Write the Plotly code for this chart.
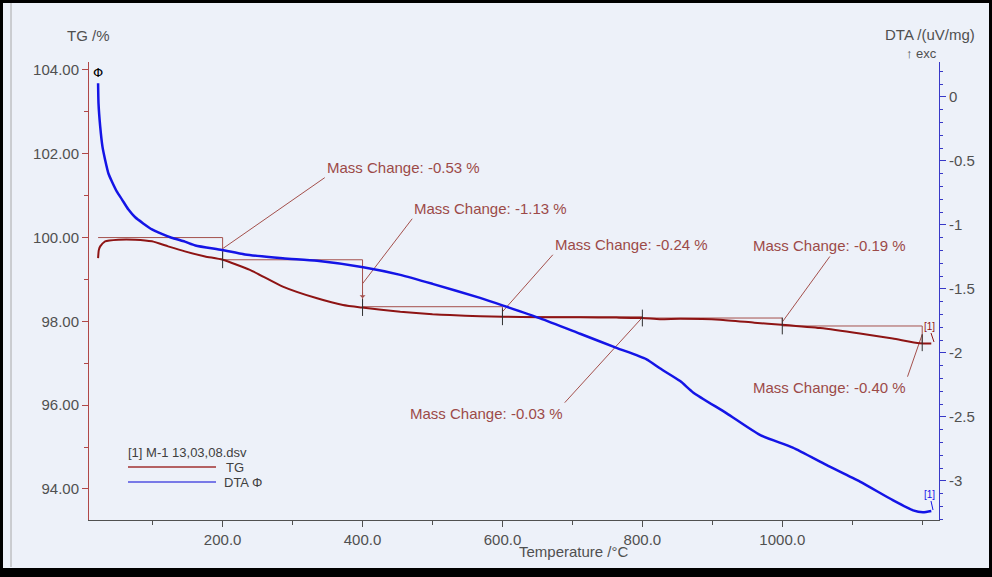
import plotly.graph_objects as go

# ---------------- data ----------------
tg_temp = [22, 23, 25, 32, 51, 75, 99, 122, 146, 175, 200, 239, 286, 335, 372, 399,
           454, 500, 525, 568, 601, 654, 711, 763, 800, 825, 854, 911, 960, 999,
           1054, 1111, 1158, 1196, 1213]
tg_val = [99.51, 99.70, 99.79, 99.91, 99.95, 99.95, 99.91, 99.79, 99.67, 99.55, 99.47,
          99.23, 98.83, 98.55, 98.39, 98.33, 98.23, 98.17, 98.15, 98.12, 98.11, 98.10,
          98.10, 98.09, 98.08, 98.05, 98.06, 98.04, 97.97, 97.92, 97.84, 97.71, 97.59,
          97.48, 97.47]

dta_temp = [22, 22.6, 25, 28.3, 32, 36.9, 41.7, 48.9, 56, 65.4, 75, 87, 99, 113, 127, 146,
            161, 199, 232, 286, 335, 401, 454, 500, 568, 601, 654, 711, 763, 806, 825,
            854, 873, 920, 968, 1015, 1063, 1111, 1158, 1187, 1201, 1213]
dta_val = [0.107, -0.05, -0.23, -0.39, -0.49, -0.60, -0.66, -0.74, -0.80, -0.88, -0.94,
           -0.99, -1.035, -1.07, -1.10, -1.13, -1.16, -1.195, -1.23, -1.26, -1.28, -1.33,
           -1.39, -1.46, -1.57, -1.63, -1.73, -1.85, -1.96, -2.05, -2.12, -2.22, -2.31,
           -2.47, -2.64, -2.74, -2.875, -3.005, -3.15, -3.23, -3.245, -3.235]

# mass-change evaluation steps
step_bounds = [22, 200, 400, 600, 800, 1000, 1200]
step_start = [100.00, 99.47, 98.35, 98.11, 98.08, 97.89]
step_end = [99.47, 98.33, 98.11, 98.08, 97.89, 97.49]
step_labels = ["Mass Change: -0.53 %", "Mass Change: -1.13 %", "Mass Change: -0.24 %",
               "Mass Change: -0.03 %", "Mass Change: -0.19 %", "Mass Change: -0.40 %"]
# label anchor (temperature, TG) where the leader line ends
label_T = [346, 471, 672, 689, 1068, 1179]
label_tg = [101.43, 100.45, 99.59, 96.06, 99.55, 96.68]
label_xanchor = ["left", "left", "left", "right", "center", "right"]
label_yanchor = ["bottom", "bottom", "bottom", "top", "bottom", "top"]

x_ticks = [200, 400, 600, 800, 1000]
x_ticktext = ["200.0", "400.0", "600.0", "800.0", "1000.0"]
tg_ticks = [94, 96, 98, 100, 102, 104]
tg_ticktext = ["94.00", "96.00", "98.00", "100.00", "102.00", "104.00"]
dta_ticks = [0, -0.5, -1, -1.5, -2, -2.5, -3]
dta_ticktext = ["0", "-0.5", "-1", "-1.5", "-2", "-2.5", "-3"]

# ---------------- layout geometry ----------------
W, H = 992, 577
L, R, T, B = 89, 53, 62, 57
PW, PH = W - L - R, H - T - B


def px(xp):
    return (xp - L) / PW


def py(yp):
    return (H - B - yp) / PH


BG = "#EDF1F9"
RED = "#8E1414"
REF = "#A4504C"
BLUE = "#1414E6"
FONT = "Liberation Sans, Arial, sans-serif"

fig = go.Figure()

# reference (step) lines
sx, sy = [], []
for i in range(len(step_start)):
    sx += [step_bounds[i], step_bounds[i + 1], step_bounds[i + 1], None]
    sy += [step_start[i], step_start[i], step_end[i], None]
fig.add_trace(go.Scatter(x=sx, y=sy, mode="lines", line=dict(color=REF, width=1),
                         showlegend=False, hoverinfo="skip"))

# leader lines
lx, ly = [], []
for i in range(len(step_start)):
    mid = (step_start[i] + step_end[i]) / 2
    lx += [step_bounds[i + 1], label_T[i], None]
    ly += [mid, label_tg[i], None]
fig.add_trace(go.Scatter(x=lx, y=ly, mode="lines", line=dict(color=REF, width=1),
                         showlegend=False, hoverinfo="skip"))

# TG curve
fig.add_trace(go.Scatter(x=tg_temp, y=tg_val, mode="lines", name="TG",
                         line=dict(color=RED, width=2, shape="spline", smoothing=0.5),
                         showlegend=False))

# DTA curve
fig.add_trace(go.Scatter(x=dta_temp, y=dta_val, mode="lines", name="DTA Φ", yaxis="y2",
                         line=dict(color=BLUE, width=2.5, shape="spline", smoothing=0.6),
                         showlegend=False))

# step crosses
fig.add_trace(go.Scatter(x=step_bounds[1:], y=step_end, mode="markers",
                         marker=dict(symbol="line-ns", size=12,
                                     line=dict(color="#303030", width=1)),
                         showlegend=False, hoverinfo="skip"))


def note(xp, yp, text, size=15, color="#505050", xanchor="center", family=FONT):
    return dict(x=px(xp), y=py(yp), xref="paper", yref="paper", text=text,
                showarrow=False, xanchor=xanchor, yanchor="middle",
                font=dict(family=family, size=size, color=color))


annotations = []
for i in range(len(step_labels)):
    annotations.append(dict(x=label_T[i], y=label_tg[i], xref="x", yref="y",
                            text=step_labels[i], showarrow=False,
                            xanchor=label_xanchor[i], yanchor=label_yanchor[i],
                            font=dict(family=FONT, size=15, color="#9C4A48")))

# small arrow on the -1.13 % step line
annotations.append(dict(x=step_bounds[2], y=98.55, xref="x", yref="y", text="",
                        showarrow=True, ax=0, ay=-8, arrowhead=1, arrowsize=1,
                        arrowwidth=1, arrowcolor=REF))

annotations += [
    note(88, 35, "TG /%"),
    note(930, 34, "DTA /(uV/mg)"),
    note(921, 54, "↑ exc", size=13),
    note(574, 551, "Temperature /°C"),
    note(98, 72, "Φ", size=13, color="#000000", family="DejaVu Sans"),
    note(929, 326, "[1]", size=10, color=RED),
    note(929, 494, "[1]", size=10, color=BLUE),
    note(126, 452, "[1] M-1 13,03,08.dsv", size=13, color="#404040", xanchor="left"),
    note(246, 467, "TG", size=13, color="#404040", xanchor="right"),
    note(222, 482, "DTA Φ", size=13, color="#404040", xanchor="left"),
]

shapes = [
    # legend line samples
    dict(type="line", xref="paper", yref="paper", x0=px(128), x1=px(216), y0=py(467),
         y1=py(467), line=dict(color="#A03030", width=1.5)),
    dict(type="line", xref="paper", yref="paper", x0=px(128), x1=px(216), y0=py(482),
         y1=py(482), line=dict(color="#5050E0", width=1.5)),
    # small bracket leaders for [1]
    dict(type="line", xref="paper", yref="paper", x0=px(931), x1=px(934), y0=py(333),
         y1=py(342), line=dict(color=RED, width=1)),
    dict(type="line", xref="paper", yref="paper", x0=px(931), x1=px(933), y0=py(501),
         y1=py(510), line=dict(color=BLUE, width=1)),
    # inner gray frame line
    dict(type="line", xref="paper", yref="paper", x0=px(11), x1=px(11), y0=py(3),
         y1=py(567), line=dict(color="#A8A8A8", width=1)),
    # black outer frame
    dict(type="rect", xref="paper", yref="paper", x0=px(0), x1=px(992), y0=py(0), y1=py(3),
         fillcolor="black", line=dict(width=0)),
    dict(type="rect", xref="paper", yref="paper", x0=px(0), x1=px(992), y0=py(568),
         y1=py(577), fillcolor="black", line=dict(width=0)),
    dict(type="rect", xref="paper", yref="paper", x0=px(0), x1=px(3), y0=py(0), y1=py(577),
         fillcolor="black", line=dict(width=0)),
    dict(type="rect", xref="paper", yref="paper", x0=px(989), x1=px(992), y0=py(0),
         y1=py(577), fillcolor="black", line=dict(width=0)),
]

tickfont = dict(family=FONT, size=15, color="#505050")

fig.update_layout(
    width=W, height=H,
    margin=dict(l=L, r=R, t=T, b=B, pad=0),
    paper_bgcolor=BG, plot_bgcolor=BG,
    showlegend=False,
    xaxis=dict(range=[9, 1224], tickvals=x_ticks, ticktext=x_ticktext, ticks="outside",
               ticklen=6, tickcolor="#505050", showline=True, linecolor="#505050",
               linewidth=1, showgrid=False, zeroline=False, tickfont=tickfont,
               minor=dict(tickmode="linear", tick0=0, dtick=100, ticks="outside",
                          ticklen=4, tickcolor="#505050")),
    yaxis=dict(range=[93.26, 104.19], tickvals=tg_ticks, ticktext=tg_ticktext,
               ticks="outside", ticklen=6, tickcolor="#B04848", showline=True,
               linecolor="#B04848", linewidth=1, showgrid=False, zeroline=False,
               tickfont=tickfont,
               minor=dict(tickmode="linear", tick0=0, dtick=1, ticks="outside",
                          ticklen=4, tickcolor="#B04848")),
    yaxis2=dict(range=[-3.305, 0.273], overlaying="y", side="right", tickvals=dta_ticks,
                ticktext=dta_ticktext, ticks="outside", ticklen=6, tickcolor="#3838C8",
                showline=True, linecolor="#3838C8", linewidth=1, showgrid=False,
                zeroline=False, tickfont=tickfont,
                minor=dict(tickmode="linear", tick0=0, dtick=0.1, ticks="outside",
                           ticklen=3, tickcolor="#3838C8")),
    annotations=annotations,
    shapes=shapes,
)

fig.write_html("out.html", config={"displayModeBar": False},
               post_script="document.body.style.margin='0';"
                           "document.body.style.overflow='hidden';")
